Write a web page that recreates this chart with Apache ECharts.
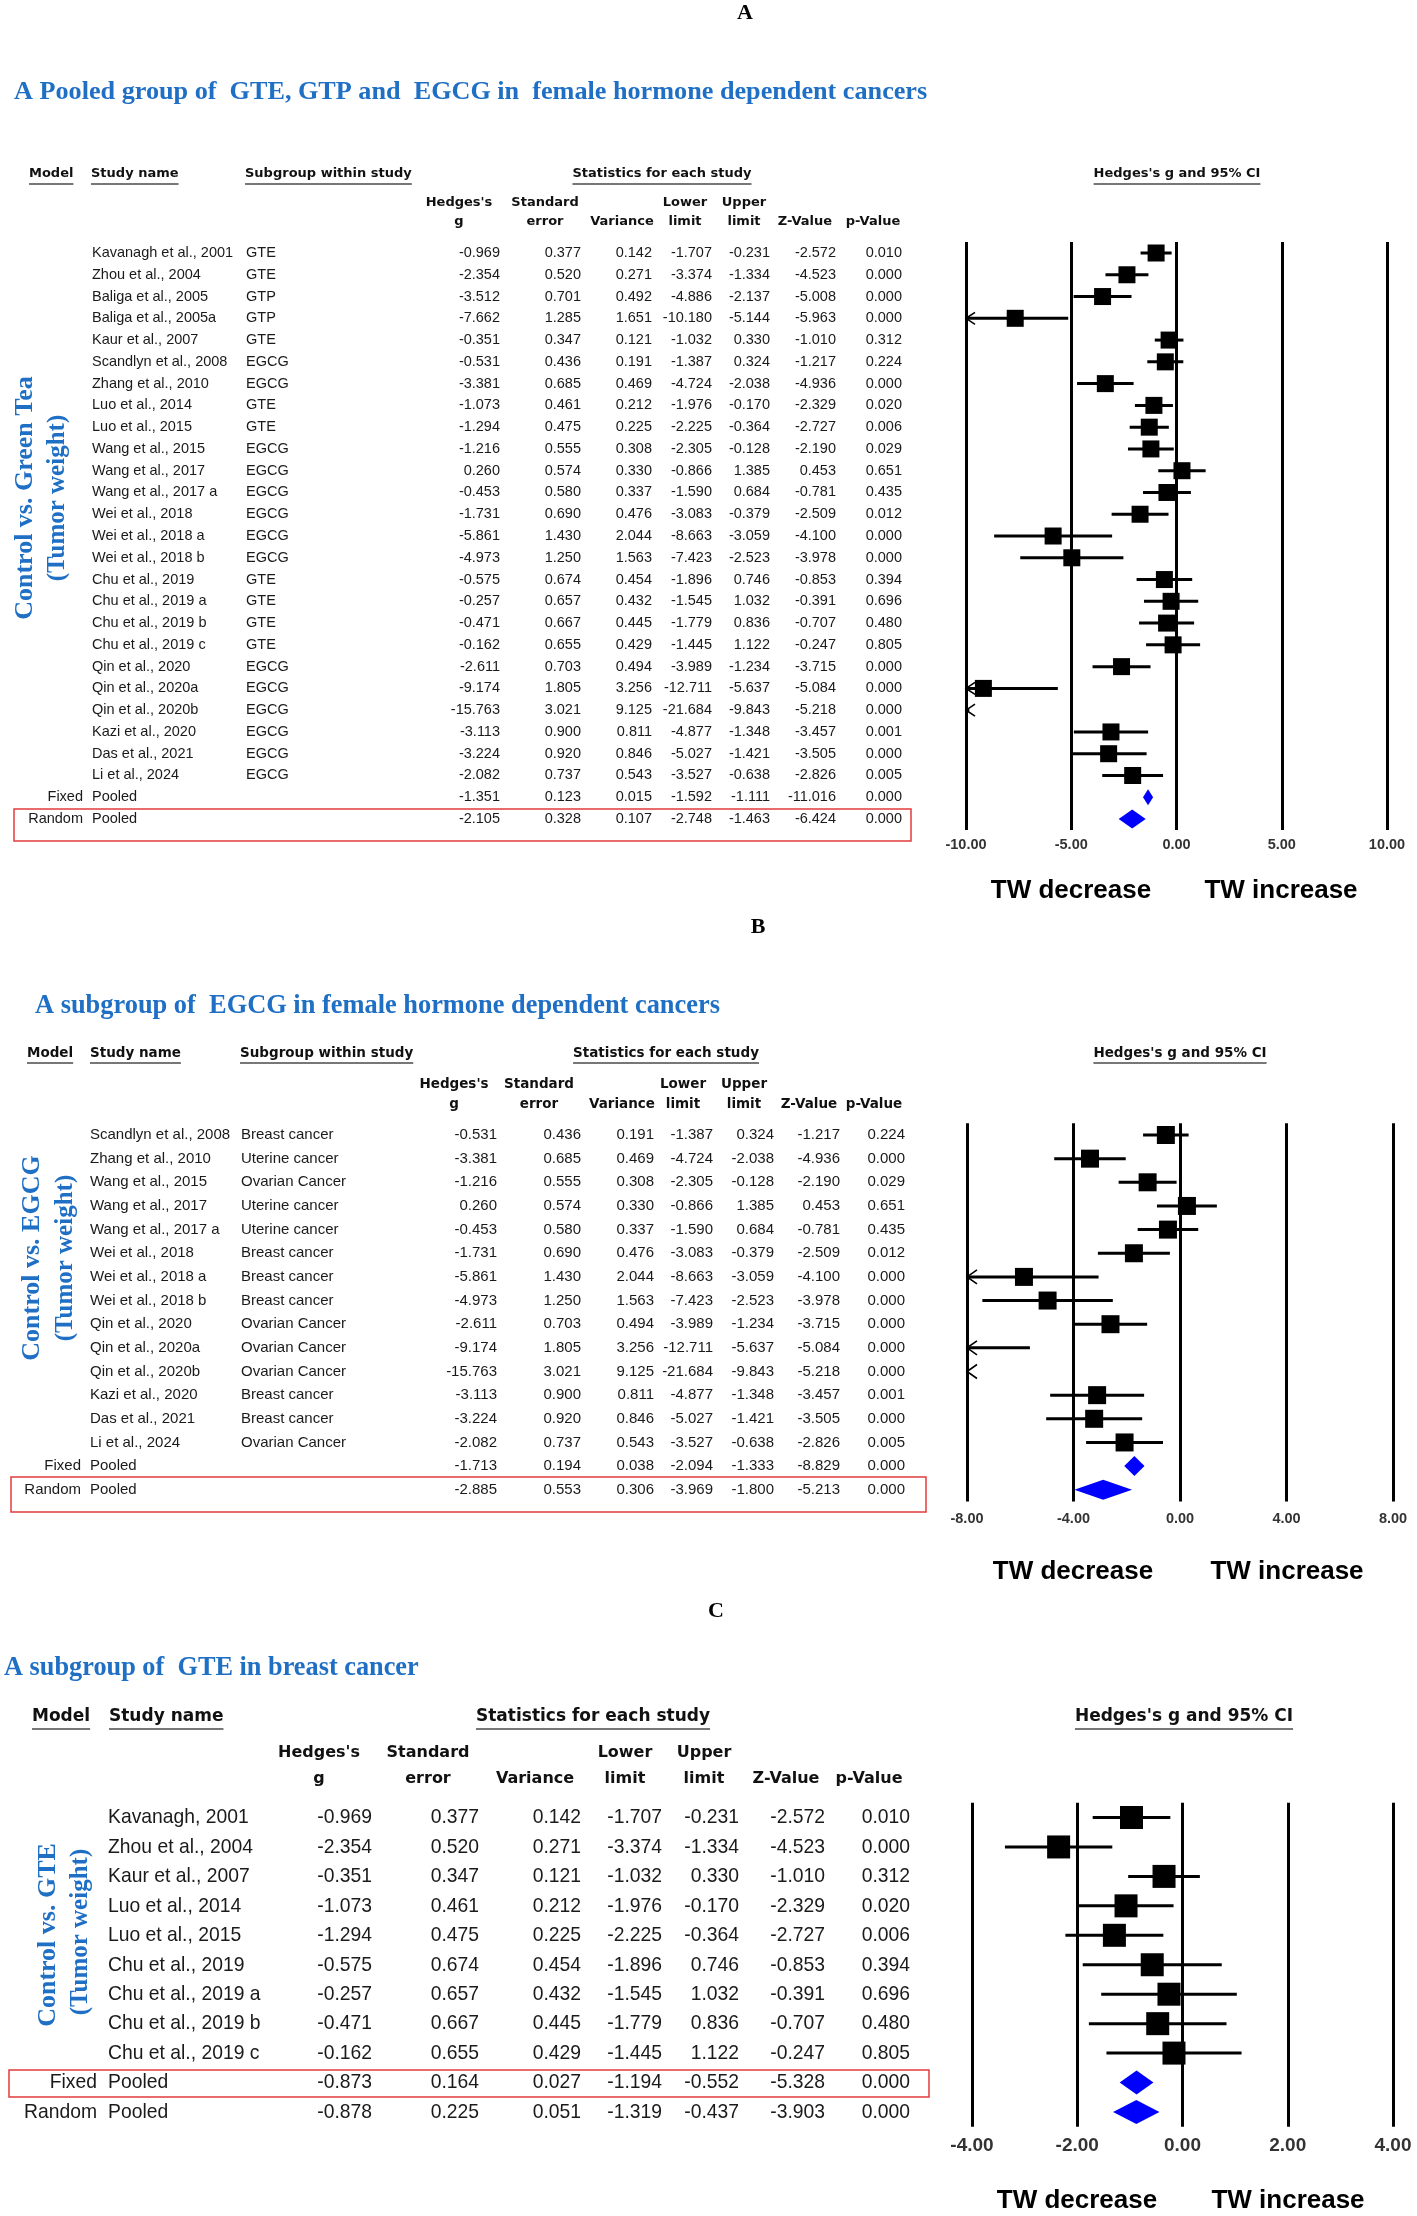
<!DOCTYPE html>
<html><head><meta charset="utf-8">
<script src="https://cdn.jsdelivr.net/npm/echarts@6/dist/echarts.min.js"></script>
<style>html,body{margin:0;padding:0;background:#fff}#c{width:1417px;height:2216px}</style>
</head><body><div id="c"></div>
<script>
// ================= DATA =================
// Panel A
const A_title = "A Pooled group of  GTE, GTP and  EGCG in  female hormone dependent cancers";
const A_ylabel = ["Control vs. Green Tea", "(Tumor weight)"];
const A_study = ["Kavanagh et al., 2001","Zhou et al., 2004","Baliga et al., 2005","Baliga et al., 2005a","Kaur et al., 2007","Scandlyn et al., 2008","Zhang et al., 2010","Luo et al., 2014","Luo et al., 2015","Wang et al., 2015","Wang et al., 2017","Wang et al., 2017 a","Wei et al., 2018","Wei et al., 2018 a","Wei et al., 2018 b","Chu et al., 2019","Chu et al., 2019 a","Chu et al., 2019 b","Chu et al., 2019 c","Qin et al., 2020","Qin et al., 2020a","Qin et al., 2020b","Kazi et al., 2020","Das et al., 2021","Li et al., 2024","Pooled","Pooled"];
const A_model = ["","","","","","","","","","","","","","","","","","","","","","","","","","Fixed","Random"];
const A_subgroup = ["GTE","GTE","GTP","GTP","GTE","EGCG","EGCG","GTE","GTE","EGCG","EGCG","EGCG","EGCG","EGCG","EGCG","GTE","GTE","GTE","GTE","EGCG","EGCG","EGCG","EGCG","EGCG","EGCG","",""];
const A_g = [-0.969,-2.354,-3.512,-7.662,-0.351,-0.531,-3.381,-1.073,-1.294,-1.216,0.260,-0.453,-1.731,-5.861,-4.973,-0.575,-0.257,-0.471,-0.162,-2.611,-9.174,-15.763,-3.113,-3.224,-2.082,-1.351,-2.105];
const A_se = [0.377,0.520,0.701,1.285,0.347,0.436,0.685,0.461,0.475,0.555,0.574,0.580,0.690,1.430,1.250,0.674,0.657,0.667,0.655,0.703,1.805,3.021,0.900,0.920,0.737,0.123,0.328];
const A_var = [0.142,0.271,0.492,1.651,0.121,0.191,0.469,0.212,0.225,0.308,0.330,0.337,0.476,2.044,1.563,0.454,0.432,0.445,0.429,0.494,3.256,9.125,0.811,0.846,0.543,0.015,0.107];
const A_lower = [-1.707,-3.374,-4.886,-10.180,-1.032,-1.387,-4.724,-1.976,-2.225,-2.305,-0.866,-1.590,-3.083,-8.663,-7.423,-1.896,-1.545,-1.779,-1.445,-3.989,-12.711,-21.684,-4.877,-5.027,-3.527,-1.592,-2.748];
const A_upper = [-0.231,-1.334,-2.137,-5.144,0.330,0.324,-2.038,-0.170,-0.364,-0.128,1.385,0.684,-0.379,-3.059,-2.523,0.746,1.032,0.836,1.122,-1.234,-5.637,-9.843,-1.348,-1.421,-0.638,-1.111,-1.463];
const A_z = [-2.572,-4.523,-5.008,-5.963,-1.010,-1.217,-4.936,-2.329,-2.727,-2.190,0.453,-0.781,-2.509,-4.100,-3.978,-0.853,-0.391,-0.707,-0.247,-3.715,-5.084,-5.218,-3.457,-3.505,-2.826,-11.016,-6.424];
const A_p = [0.010,0.000,0.000,0.000,0.312,0.224,0.000,0.020,0.006,0.029,0.651,0.435,0.012,0.000,0.000,0.394,0.696,0.480,0.805,0.000,0.000,0.000,0.001,0.000,0.005,0.000,0.000];
const A_ticks = [-10, -5, 0, 5, 10];

// Panel B
const B_title = "A subgroup of  EGCG in female hormone dependent cancers";
const B_ylabel = ["Control vs. EGCG", "(Tumor weight)"];
const B_study = ["Scandlyn et al., 2008","Zhang et al., 2010","Wang et al., 2015","Wang et al., 2017","Wang et al., 2017 a","Wei et al., 2018","Wei et al., 2018 a","Wei et al., 2018 b","Qin et al., 2020","Qin et al., 2020a","Qin et al., 2020b","Kazi et al., 2020","Das et al., 2021","Li et al., 2024","Pooled","Pooled"];
const B_model = ["","","","","","","","","","","","","","","Fixed","Random"];
const B_subgroup = ["Breast cancer","Uterine cancer","Ovarian Cancer","Uterine cancer","Uterine cancer","Breast cancer","Breast cancer","Breast cancer","Ovarian Cancer","Ovarian Cancer","Ovarian Cancer","Breast cancer","Breast cancer","Ovarian Cancer","",""];
const B_g = [-0.531,-3.381,-1.216,0.260,-0.453,-1.731,-5.861,-4.973,-2.611,-9.174,-15.763,-3.113,-3.224,-2.082,-1.713,-2.885];
const B_se = [0.436,0.685,0.555,0.574,0.580,0.690,1.430,1.250,0.703,1.805,3.021,0.900,0.920,0.737,0.194,0.553];
const B_var = [0.191,0.469,0.308,0.330,0.337,0.476,2.044,1.563,0.494,3.256,9.125,0.811,0.846,0.543,0.038,0.306];
const B_lower = [-1.387,-4.724,-2.305,-0.866,-1.590,-3.083,-8.663,-7.423,-3.989,-12.711,-21.684,-4.877,-5.027,-3.527,-2.094,-3.969];
const B_upper = [0.324,-2.038,-0.128,1.385,0.684,-0.379,-3.059,-2.523,-1.234,-5.637,-9.843,-1.348,-1.421,-0.638,-1.333,-1.800];
const B_z = [-1.217,-4.936,-2.190,0.453,-0.781,-2.509,-4.100,-3.978,-3.715,-5.084,-5.218,-3.457,-3.505,-2.826,-8.829,-5.213];
const B_p = [0.224,0.000,0.029,0.651,0.435,0.012,0.000,0.000,0.000,0.000,0.000,0.001,0.000,0.005,0.000,0.000];
const B_ticks = [-8, -4, 0, 4, 8];

// Panel C
const C_title = "A subgroup of  GTE in breast cancer";
const C_ylabel = ["Control vs. GTE", "(Tumor weight)"];
const C_study = ["Kavanagh, 2001","Zhou et al., 2004","Kaur et al., 2007","Luo et al., 2014","Luo et al., 2015","Chu et al., 2019","Chu et al., 2019 a","Chu et al., 2019 b","Chu et al., 2019 c","Pooled","Pooled"];
const C_model = ["","","","","","","","","","Fixed","Random"];
const C_g = [-0.969,-2.354,-0.351,-1.073,-1.294,-0.575,-0.257,-0.471,-0.162,-0.873,-0.878];
const C_se = [0.377,0.520,0.347,0.461,0.475,0.674,0.657,0.667,0.655,0.164,0.225];
const C_var = [0.142,0.271,0.121,0.212,0.225,0.454,0.432,0.445,0.429,0.027,0.051];
const C_lower = [-1.707,-3.374,-1.032,-1.976,-2.225,-1.896,-1.545,-1.779,-1.445,-1.194,-1.319];
const C_upper = [-0.231,-1.334,0.330,-0.170,-0.364,0.746,1.032,0.836,1.122,-0.552,-0.437];
const C_z = [-2.572,-4.523,-1.010,-2.329,-2.727,-0.853,-0.391,-0.707,-0.247,-5.328,-3.903];
const C_p = [0.010,0.000,0.312,0.020,0.006,0.394,0.696,0.480,0.805,0.000,0.000];
const C_ticks = [-4, -2, 0, 2, 4];

// Shared texts
const COL_HEAD = [["Hedges's","g"],["Standard","error"],["","Variance"],["Lower","limit"],["Upper","limit"],["","Z-Value"],["","p-Value"]];
const FOREST_HEAD = "Hedges's g and 95% CI";
const SIDE_LEFT = "TW decrease", SIDE_RIGHT = "TW increase";

// ================= LAYOUT / STYLE =================
const SANS = '"Liberation Sans", Arial, Helvetica, sans-serif';
const HEADF = '"DejaVu Sans", Verdana, sans-serif';
const SERIF = '"Liberation Serif", "Times New Roman", serif';
const BLUE = '#1f6fc5';

const PANELS = [
  { letter:'A', title:A_title, ylabel:A_ylabel, study:A_study, model:A_model, sub:A_subgroup,
    g:A_g, lo:A_lower, hi:A_upper, cols:[A_g,A_se,A_var,A_lower,A_upper,A_z,A_p], ticks:A_ticks,
    L:{ row1:253, step:21.77, fL:966, fW:421, numX:[500,581,652,712,770,836,902], modelX:83, studyX:92, subX:246,
        font:'14.5px '+SANS, sx:1, sq:17, dF:16, dR:19, ciW:3, arW:9, arH:6, tickFS:14.5, tickMargin:8,
        letterXY:[745,13], titleXY:[14,92], titleFS:26.2, yl:[[25,498],[58,498]], ylFS:[26,25],
        headY:174, ulY:184, headFS:13, headItems:[['Model',29,'left'],['Study name',91,'left'],['Subgroup within study',245,'left'],['Statistics for each study',662,'center']],
        forestHeadX:1177, subY:[203,222], subFS:13, subX2:[459,545,622,685,744,805,873],
        twY:891, twX:[1071,1281], box:[14,809,911,841] } },
  { letter:'B', title:B_title, ylabel:B_ylabel, study:B_study, model:B_model, sub:B_subgroup,
    g:B_g, lo:B_lower, hi:B_upper, cols:[B_g,B_se,B_var,B_lower,B_upper,B_z,B_p], ticks:B_ticks,
    L:{ row1:1135, step:23.65, fL:967, fW:426, numX:[497,581,654,713,774,840,905], modelX:81, studyX:90, subX:241,
        font:'15px '+SANS, sx:1, sq:18, dF:20, dR:20, ciW:3, arW:10, arH:7, tickFS:14.5, tickMargin:10,
        letterXY:[758,927], titleXY:[35,1006], titleFS:26.4, yl:[[32,1258],[66,1258]], ylFS:[26,25],
        headY:1053, ulY:1063, headFS:13.5, headItems:[['Model',27,'left'],['Study name',90,'left'],['Subgroup within study',240,'left'],['Statistics for each study',666,'center']],
        forestHeadX:1180, subY:[1084,1104], subFS:13.5, subX2:[454,539,622,683,744,809,874],
        twY:1572, twX:[1073,1287], box:[11,1477,926,1512] } },
  { letter:'C', title:C_title, ylabel:C_ylabel, study:C_study, model:C_model, sub:null,
    g:C_g, lo:C_lower, hi:C_upper, cols:[C_g,C_se,C_var,C_lower,C_upper,C_z,C_p], ticks:C_ticks,
    L:{ row1:1817.5, step:29.45, fL:972, fW:421, numX:[372,479,581,662,739,825,910], modelX:97, studyX:108, subX:0,
        font:'21px '+SANS, sx:0.92, sq:23, dF:24, dR:24, ciW:3, arW:10, arH:7, tickFS:19, tickMargin:10,
        letterXY:[716,1611], titleXY:[4,1668], titleFS:26.3, yl:[[48,1935],[81,1932]], ylFS:[26,25],
        headY:1717, ulY:1729, headFS:17, headItems:[['Model',32,'left'],['Study name',109,'left'],['Statistics for each study',593,'center']],
        forestHeadX:1184, subY:[1753,1779], subFS:16, subX2:[319,428,535,625,704,786,869],
        twY:2201, twX:[1077,1288], box:[9,2070,929,2097] } }
];

// ================= BUILD =================
const mctx = document.createElement('canvas').getContext('2d');
function textW(t, font){ mctx.font = font; return mctx.measureText(t).width; }

function txt(text, x, y, font, fill, align, extra){
  return Object.assign({ type:'text', x:x, y:y, silent:true,
    style:{ text:text, font:font, fill:fill||'#111', align:align||'left', textAlign:align||'left',
            verticalAlign:'middle', textVerticalAlign:'middle' } }, extra||{});
}

function tableRender(P){
  const L = P.L;
  return function(params, api){
    const i = api.value(1);
    const y = api.coord([0, i])[1];
    const X = v => api.coord([v, i])[0];
    const kids = [];
    const mk = (t, x, al) => ({ type:'text', x:x, y:y, scaleX:L.sx, scaleY:1,
      style:{ text:t, font:L.font, fill:'#1a1a1a', align:al, textAlign:al, verticalAlign:'middle', textVerticalAlign:'middle' } });
    if (P.model[i]) kids.push(mk(P.model[i], X(L.modelX), 'right'));
    kids.push(mk(P.study[i], X(L.studyX), 'left'));
    if (P.sub && P.sub[i]) kids.push(mk(P.sub[i], X(L.subX), 'left'));
    P.cols.forEach((arr, k) => kids.push(mk(arr[i].toFixed(3), X(L.numX[k]), 'right')));
    return { type:'group', children:kids };
  };
}

function forestRender(P){
  const L = P.L, min = P.ticks[0], max = P.ticks[P.ticks.length-1];
  return function(params, api){
    const i = api.value(0), g = api.value(1), lo = api.value(2), hi = api.value(3), kind = api.value(4);
    const y = api.coord([0, i])[1];
    const X = v => api.coord([v, i])[0];
    const kids = [];
    if (kind === 0) {
      const cl = Math.max(lo, min), ch = Math.min(hi, max);
      if (ch > cl) kids.push({ type:'line', shape:{ x1:X(cl), y1:y, x2:X(ch), y2:y }, style:{ stroke:'#000', lineWidth:L.ciW } });
      if (lo < min) {
        const xm = X(min);
        kids.push({ type:'polyline', shape:{ points:[[xm+L.arW, y-L.arH],[xm, y],[xm+L.arW, y+L.arH]] }, style:{ stroke:'#000', lineWidth:1.6, fill:null } });
      }
      if (g >= min && g <= max) {
        const cx = X(g), s = L.sq;
        kids.push({ type:'rect', shape:{ x:cx-s/2, y:y-s/2, width:s, height:s }, style:{ fill:'#000' } });
      }
    } else {
      const h = kind === 1 ? L.dF : L.dR;
      kids.push({ type:'polygon', shape:{ points:[[X(lo), y],[X(g), y-h/2],[X(hi), y],[X(g), y+h/2]] }, style:{ fill:'#0000ff' } });
    }
    return { type:'group', children:kids };
  };
}

const grid = [], xAxis = [], yAxis = [], series = [], graphic = [];
PANELS.forEach((P, pi) => {
  const L = P.L, n = P.study.length;
  const top = L.row1 - L.step/2, height = n*L.step;
  // table grid
  grid.push({ left:0, width:1417, top:top, height:height, show:false, containLabel:false, outerBoundsMode:'none' });
  xAxis.push({ type:'value', gridIndex:2*pi, min:0, max:1417, show:false });
  yAxis.push({ type:'value', gridIndex:2*pi, min:-0.5, max:n-0.5, inverse:true, show:false });
  series.push({ type:'custom', xAxisIndex:2*pi, yAxisIndex:2*pi, silent:true,
    data:P.study.map((s, i) => [0, i]), encode:{ x:0, y:1 }, renderItem:tableRender(P) });
  // forest grid
  grid.push({ left:L.fL, width:L.fW, top:top, height:height, show:false, containLabel:false, outerBoundsMode:'none' });
  xAxis.push({ type:'value', gridIndex:2*pi+1, min:P.ticks[0], max:P.ticks[P.ticks.length-1], interval:P.ticks[1]-P.ticks[0],
    axisLine:{ show:false }, axisTick:{ show:false },
    splitLine:{ show:true, lineStyle:{ color:'#000', width:3 } },
    axisLabel:{ show:true, margin:L.tickMargin, formatter:v => v.toFixed(2), fontFamily:SANS, fontWeight:'bold', fontSize:L.tickFS, color:'#333', showMinLabel:true, showMaxLabel:true, hideOverlap:false } });
  yAxis.push({ type:'value', gridIndex:2*pi+1, min:-0.5, max:n-0.5, inverse:true, show:false });
  series.push({ type:'custom', xAxisIndex:2*pi+1, yAxisIndex:2*pi+1, silent:true, clip:false,
    data:P.g.map((g, i) => [i, g, P.lo[i], P.hi[i], P.model[i] === 'Fixed' ? 1 : (P.model[i] === 'Random' ? 2 : 0)]),
    encode:{ x:1, y:0 }, renderItem:forestRender(P) });

  // letter & title
  graphic.push(txt(P.letter, L.letterXY[0], L.letterXY[1], 'bold 22px '+SERIF, '#000', 'center'));
  graphic.push(txt(P.title, L.titleXY[0], L.titleXY[1], 'bold '+L.titleFS+'px '+SERIF, BLUE, 'left'));
  // rotated side labels
  P.ylabel.forEach((t, k) => graphic.push(txt(t, L.yl[k][0], L.yl[k][1], 'bold '+L.ylFS[k]+'px '+SERIF, BLUE, 'center', { rotation:Math.PI/2 })));
  // headers with underline
  const hf = 'bold '+L.headFS+'px '+HEADF;
  const heads = L.headItems.concat([[FOREST_HEAD, L.forestHeadX, 'center']]);
  heads.forEach(h => {
    graphic.push(txt(h[0], h[1], L.headY, hf, '#111', h[2]));
    const w = textW(h[0], hf);
    const x1 = h[2] === 'center' ? h[1] - w/2 : h[1];
    graphic.push({ type:'line', silent:true, shape:{ x1:x1, y1:L.ulY, x2:x1+w, y2:L.ulY }, style:{ stroke:'#777', lineWidth:2 } });
  });
  // column sub-headers
  const sf = 'bold '+L.subFS+'px '+HEADF;
  COL_HEAD.forEach((pair, k) => {
    if (pair[0]) graphic.push(txt(pair[0], L.subX2[k], L.subY[0], sf, '#111', 'center'));
    graphic.push(txt(pair[1], L.subX2[k], L.subY[1], sf, '#111', 'center'));
  });
  // side labels under forest
  graphic.push(txt(SIDE_LEFT, L.twX[0], L.twY, 'bold 26px '+SANS, '#000', 'center'));
  graphic.push(txt(SIDE_RIGHT, L.twX[1], L.twY, 'bold 26px '+SANS, '#000', 'center'));
  // red highlight box
  const b = L.box;
  graphic.push({ type:'rect', silent:true, shape:{ x:b[0], y:b[1], width:b[2]-b[0], height:b[3]-b[1] }, style:{ fill:null, stroke:'#e23b3b', lineWidth:1.5 } });
});

const chart = echarts.init(document.getElementById('c'), null, { renderer:'canvas', width:1417, height:2216 });
chart.setOption({ animation:false, backgroundColor:'#fff', grid, xAxis, yAxis, series, graphic });
</script></body></html>
